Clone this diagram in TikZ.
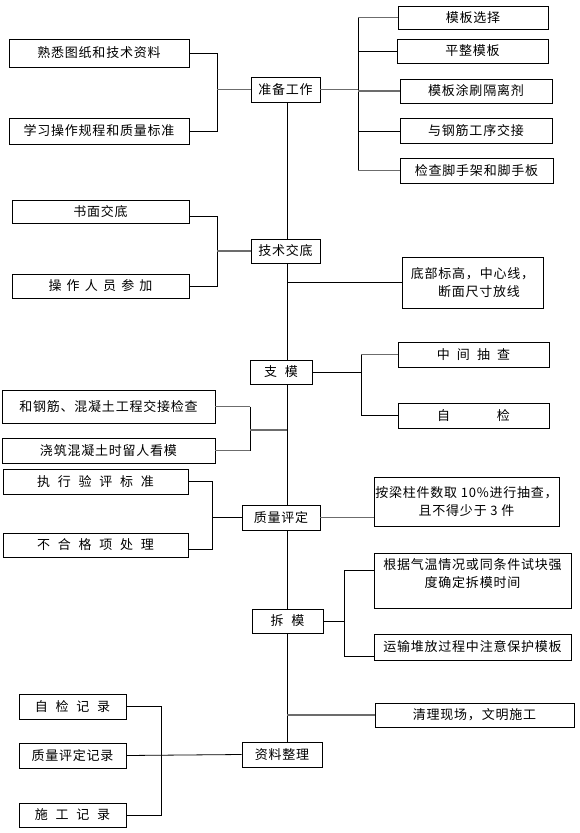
\documentclass[tikz,border=0pt]{standalone}
\usepackage{fontspec}
\newfontfamily\cjk[LetterSpace=6]{Noto Sans CJK SC}
\begin{document}
\begin{tikzpicture}[x=1pt, y=-1pt,
    caja/.style={draw, line width=0.8pt, fill=white, inner sep=0pt, align=center,
        font=\cjk\fontsize{13}{18}\selectfont},
    ln/.style={line width=0.8pt},
    gln/.style={line width=1.3pt, gray!85!black}]
    \useasboundingbox (0,0) rectangle (579,833);

    % Eje principal
    \coordinate (S1) at (287, 102);
    \coordinate (S2) at (287, 742);
    \draw[ln] (S1) -- (S2);

    % Pasos principales
    \node[caja, minimum width=69, minimum height=25] (zb) at (285.5, 89.5) {准备工作};
    \node[caja, minimum width=69, minimum height=24] (jd) at (285.5, 251) {技术交底};
    \node[caja, minimum width=62, minimum height=24] (zm) at (281, 372) {支\hspace{0.6em}模};
    \node[caja, minimum width=78, minimum height=25] (pd) at (281, 517.5) {质量评定};
    \node[caja, minimum width=71, minimum height=24] (cm) at (287.5, 621) {拆\hspace{0.6em}模};
    \node[caja, minimum width=80, minimum height=25] (zl) at (282, 754.5) {资料整理};

    % Preparación
    \node[caja, minimum width=150, minimum height=23] (mbxz) at (473, 17.5) {模板选择};
    \node[caja, minimum width=151, minimum height=24] (pzmb) at (472.5, 51) {平整模板};
    \node[caja, minimum width=152, minimum height=24] (tsgl) at (476, 91) {模板涂刷隔离剂};
    \node[caja, minimum width=152, minimum height=25] (gjjj) at (476, 131) {与钢筋工序交接};
    \node[caja, minimum width=153, minimum height=25] (jcjs) at (476.5, 170.5) {检查脚手架和脚手板};
    \node[caja, minimum width=180, minimum height=28] (sx) at (99, 53) {熟悉图纸和技术资料};
    \node[caja, minimum width=180, minimum height=26] (xx) at (99, 131) {学习操作规程和质量标准};

    % Técnica
    \node[caja, minimum width=177, minimum height=23] (sm) at (100.5, 211.5) {书面交底};
    \node[caja, minimum width=177, minimum height=24] (cz) at (100.5, 286)
        {操\hspace{.4em}作\hspace{.4em}人\hspace{.4em}员\hspace{.4em}参\hspace{.4em}加};
    \node[caja, minimum width=141, minimum height=51] (bg) at (472.5, 282.5)
        {底部标高，中心线，\\\hspace*{1em}断面尺寸放线};

    % Encofrado
    \node[caja, minimum width=151, minimum height=25] (zjcc) at (473.5, 354.5)
        {中\hspace{.55em}间\hspace{.55em}抽\hspace{.55em}查};
    \node[caja, minimum width=151, minimum height=25] (zj) at (473.5, 415.5) {自\hspace{3.6em}检};
    \node[caja, minimum width=213, minimum height=33] (hg) at (108.5, 406.5) {和钢筋、混凝土工程交接检查};
    \node[caja, minimum width=213, minimum height=25] (jz) at (108.5, 450.5) {浇筑混凝土时留人看模};

    % Calidad
    \node[caja, minimum width=185, minimum height=25] (zx) at (95.5, 481.5)
        {执\hspace{.6em}行\hspace{.6em}验\hspace{.6em}评\hspace{.6em}标\hspace{.6em}准};
    \node[caja, minimum width=185, minimum height=24] (bhg) at (95.5, 545)
        {不\hspace{.6em}合\hspace{.6em}格\hspace{.6em}项\hspace{.6em}处\hspace{.6em}理};
    \node[caja, minimum width=185, minimum height=49] (alz) at (466.5, 501.5)
        {按梁柱件数取 10\%进行抽查，\\且不得少于 3 件};

    % Desencofrado
    \node[caja, minimum width=197, minimum height=55] (gj) at (472.5, 580.5)
        {根据气温情况或同条件试块强\\度确定拆模时间\\[-4pt]\mbox{}};
    \node[caja, minimum width=197, minimum height=26] (ys) at (472.5, 647) {运输堆放过程中注意保护模板};
    \node[caja, minimum width=199, minimum height=24] (ql) at (474.5, 715) {清理现场，文明施工};

    % Registros
    \node[caja, minimum width=107, minimum height=25] (zjjl) at (72.5, 706.5)
        {自\hspace{.6em}检\hspace{.6em}记\hspace{.6em}录};
    \node[caja, minimum width=107, minimum height=25] (pdjl) at (72.5, 755.5) {质量评定记录};
    \node[caja, minimum width=107, minimum height=24] (sgjl) at (72.5, 815)
        {施\hspace{.6em}工\hspace{.6em}记\hspace{.6em}录};

    % Llaves
    \coordinate (bI1) at (217, 0);
    \coordinate (bD1) at (358, 0);
    \coordinate (bI2) at (217, 0);
    \coordinate (bD2) at (361, 0);
    \coordinate (bI3) at (250, 0);
    \coordinate (bI4) at (212, 0);
    \coordinate (bD3) at (344, 0);
    \coordinate (bI5) at (161, 0);
    \coordinate (m3) at (250, 430);
    \coordinate (smE) at ([yshift=-4.5pt]sm.east);
    \coordinate (bhgE) at ([yshift=-4pt]bhg.east);
    \coordinate (gjW) at ([yshift=10.5pt]gj.west);
    \coordinate (ysW) at ([yshift=-9pt]ys.west);

    \draw[ln] (sx.east) -- (sx.east -| bI1) -- (xx.east -| bI1) -- (xx.east);
    \draw[gln] (zb.west) -- (zb.west -| bI1);
    \draw[gln] (zb.east) -- (zb.east -| bD1);
    \draw[ln] (mbxz.west -| bD1) -- (jcjs.west -| bD1);
    \foreach \n in {mbxz, tsgl, jcjs} \draw[gln] (\n.west -| bD1) -- (\n.west);
    \foreach \n in {pzmb, gjjj} \draw[ln] (\n.west -| bD1) -- (\n.west);

    \draw[ln] (smE) -- (smE -| bI2) -- (cz.east -| bI2) -- (cz.east);
    \draw[gln] (jd.west) -- (jd.west -| bI2);
    \draw[ln] (bg.west -| S1) -- (bg.west);

    \draw[ln] (zm.east) -- (zm.east -| bD2);
    \draw[ln] (zjcc.west -| bD2) -- (zj.west -| bD2) -- (zj.west);
    \draw[gln] (zjcc.west -| bD2) -- (zjcc.west);
    \draw[gln] (hg.east) -- (hg.east -| bI3);
    \draw[gln] (jz.east) -- (jz.east -| bI3);
    \draw[ln] (hg.east -| bI3) -- (jz.east -| bI3);
    \draw[gln] (m3) -- (m3 -| S1);

    \draw[ln] (zx.east) -- (zx.east -| bI4) -- (bhgE -| bI4) -- (bhgE);
    \draw[ln] (pd.west) -- (pd.west -| bI4);
    \draw[gln] (pd.east) -- (pd.east -| alz.west);

    \draw[ln] (cm.east) -- (cm.east -| bD3);
    \draw[ln] (gjW) -- (gjW -| bD3) -- (ysW -| bD3) -- (ysW);
    \draw[gln] (ql.west -| S1) -- (ql.west);

    \draw[ln] (zjjl.east) -- (zjjl.east -| bI5) -- (sgjl.east -| bI5) -- (sgjl.east);
    \draw[ln] (pdjl.east) -- (zl.west);
\end{tikzpicture}
\end{document}
